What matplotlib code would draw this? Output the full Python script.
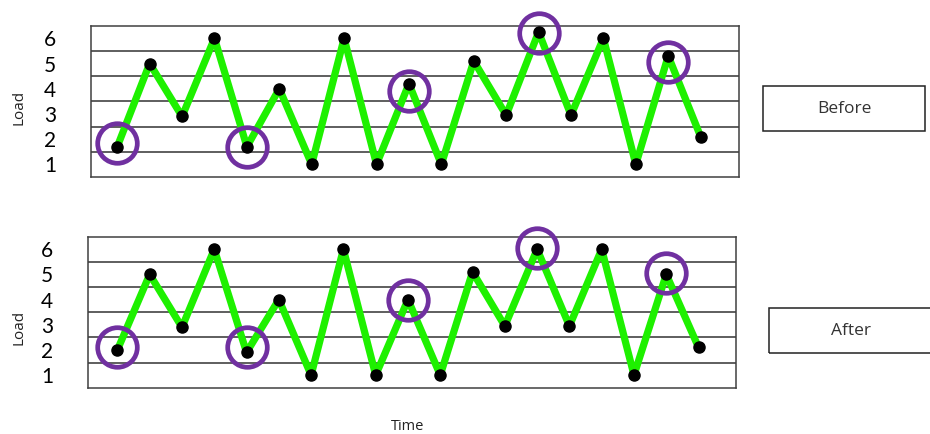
import numpy as np
import matplotlib
matplotlib.use('Agg')
import matplotlib.pyplot as plt
from matplotlib.patches import Rectangle

# data
time_idx = list(range(19))
load_before = [1.7, 5.0, 2.9, 6.0, 1.7, 4.0, 1.0, 6.0, 1.0, 4.2,
               1.0, 5.1, 2.95, 6.25, 2.95, 6.0, 1.0, 5.3, 2.1]
load_after = [2.0, 5.0, 2.9, 6.0, 1.9, 4.0, 1.0, 6.0, 1.0, 4.0,
              1.0, 5.1, 2.95, 6.0, 2.95, 6.0, 1.0, 5.0, 2.1]
circled_idx = [0, 4, 9, 13, 17]
circle_before_y = [1.83, 1.7, 3.9, 6.23, 5.05]
circle_after_y = [2.13, 2.1, 4.0, 6.04, 5.05]
y_ticks = [1, 2, 3, 4, 5, 6]
panel_labels = ['Before', 'After']

GREEN = '#1ef000'
PURPLE = '#7030a0'
GRID = '#333333'

fig = plt.figure(figsize=(9.3, 4.34), dpi=100)
fig.patch.set_facecolor('white')


def draw_panel(rect, loads, circ_y, xlim, label_xy):
    ax = fig.add_axes(rect)
    ax.plot(time_idx, loads, color=GREEN, lw=5.2, solid_joinstyle='round',
            solid_capstyle='round', zorder=3)
    ax.plot(time_idx, loads, 'o', color='black', ms=8, zorder=4)
    ax.plot(circled_idx, circ_y, 'o', mfc='none', mec=PURPLE, ms=28.5, mew=3.4,
            zorder=5, clip_on=False)
    for g in np.arange(1.5, 6.5, 1.0):
        ax.axhline(g, color=GRID, lw=1.1, zorder=1)
    ax.set_ylim(0.5, 6.5)
    ax.set_xlim(*xlim)
    ax.set_xticks([])
    ax.set_yticks(y_ticks)
    ax.set_yticklabels([str(t) for t in y_ticks], fontsize=15, family='Lato')
    ax.tick_params(axis='y', length=0, pad=25)
    for s in ax.spines.values():
        s.set_color('#404040')
        s.set_linewidth(1.1)
    ax.set_ylabel('Load', fontsize=11, family='Open Sans', color='#222222')
    ax.yaxis.set_label_coords(*label_xy)
    return ax


draw_panel([0.0975, 0.5922, 0.697, 0.3486], load_before, circle_before_y,
           (-0.82, 19.18), (-0.0997, 0.458))
draw_panel([0.0943, 0.1067, 0.6971, 0.348], load_after, circle_after_y,
           (-0.92, 19.16), (-0.095, 0.402))

# side label boxes
boxes = [(763, 85.7, 162, 45), (769, 308, 163, 44.7)]
for (x, y, w, h), txt in zip(boxes, panel_labels):
    fig.patches.append(Rectangle((x / 930, 1 - (y + h) / 434), w / 930, h / 434,
                                 transform=fig.transFigure, fill=False,
                                 edgecolor='#222222', lw=1.1))
    fig.text((x + w / 2) / 930, 1 - (y + h / 2 + 1) / 434, txt, ha='center',
             va='center', fontsize=12.5, family='Open Sans', color='#333333')

fig.text(408 / 930, 1 - 426 / 434, 'Time', ha='center', va='center',
         fontsize=10.5, family='Open Sans', color='#222222')

fig.savefig('out.png', dpi=100)
